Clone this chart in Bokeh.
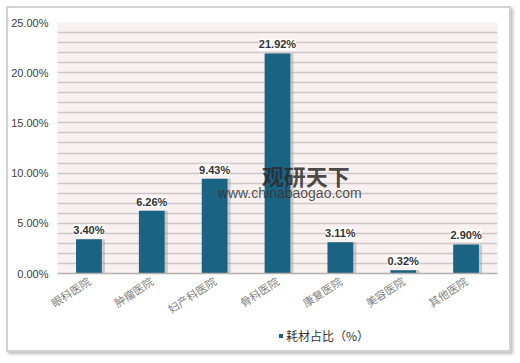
import math
from bokeh.plotting import figure
from bokeh.layouts import column
from bokeh.models import (ColumnDataSource, FactorRange, Range1d, FixedTicker,
                          PrintfTickFormatter, LabelSet, Legend, LegendItem, Label)
from bokeh.core.properties import value
from bokeh.transform import dodge
from bokeh.embed import file_html
from bokeh.resources import INLINE

categories = ["眼科医院", "肿瘤医院", "妇产科医院", "骨科医院", "康复医院", "美容医院", "其他医院"]
values = [3.40, 6.26, 9.43, 21.92, 3.11, 0.32, 2.90]
value_labels = ["3.40%", "6.26%", "9.43%", "21.92%", "3.11%", "0.32%", "2.90%"]
series_name = "耗材占比（%）"
y_ticks = [0, 5, 10, 15, 20, 25]
grid_ticks = list(range(0, 26))

BAR = "#1b6383"
source = ColumnDataSource(dict(cat=categories, val=values, lab=value_labels))

p = figure(width=501, height=318, x_range=FactorRange(*categories),
           y_range=Range1d(0, 25), output_backend="svg", toolbar_location=None,
           min_border_left=46, min_border_right=12, min_border_top=14,
           min_border_bottom=48)
p.background_fill_color = "#f9f0f0"
p.border_fill_color = "white"
p.outline_line_color = None

# shadow
p.vbar(x=dodge("cat", 0.05, range=p.x_range), top="val", width=0.41, source=source,
       fill_color="#9a9a9a", fill_alpha=0.45, line_color=None)
bars = p.vbar(x="cat", top="val", width=0.41, source=source,
              fill_color=BAR, line_color=None)

p.ygrid.ticker = FixedTicker(ticks=grid_ticks)
p.ygrid.grid_line_color = "#cdc7c7"
p.ygrid.grid_line_width = 1.5
p.xgrid.grid_line_color = None

p.yaxis.ticker = FixedTicker(ticks=y_ticks)
p.yaxis.formatter = PrintfTickFormatter(format="%.2f%%")
p.yaxis.axis_line_color = None
p.yaxis.major_tick_line_color = None
p.yaxis.minor_tick_line_color = None
p.yaxis.major_tick_out = 0
p.yaxis.major_label_standoff = 9
p.yaxis.major_label_text_font = "Liberation Sans"
p.yaxis.major_label_text_font_size = "11px"
p.yaxis.major_label_text_color = "#404040"

p.xaxis.axis_line_color = "#b5b0b0"
p.xaxis.axis_line_width = 1.5
p.xaxis.major_tick_line_color = None
p.xaxis.minor_tick_line_color = None
p.xaxis.major_tick_out = 0
p.xaxis.major_label_orientation = 0.58
p.xaxis.major_label_standoff = 6
p.xaxis.major_label_text_font = "Noto Sans CJK SC"
p.xaxis.major_label_text_font_size = "11px"
p.xaxis.major_label_text_color = "#7f7f7f"

labels = LabelSet(x="cat", y="val", text="lab", source=source, y_offset=3,
                  text_align="center", text_baseline="bottom",
                  text_font=value("Liberation Sans"), text_font_size="11px",
                  text_font_style="bold", text_color="#333333",
                  background_fill_color="white", background_fill_alpha=0.95)
p.add_layout(labels)

# watermark
p.add_layout(Label(x=3.25, y=8.2, text="观研天下", text_font="Noto Sans CJK SC",
                   text_font_size="22px", text_font_style="bold",
                   text_color="#2b2b2b", text_alpha=0.85))
p.add_layout(Label(x=2.55, y=7.25, text="www.chinabaogao.com", text_font="Liberation Sans",
                   text_font_size="14px", text_color="#333333", text_alpha=0.85))

# legend strip (zero-width bars of the same source only serve the legend swatch)
lf = figure(width=501, height=24, x_range=FactorRange(*categories), y_range=Range1d(-1000, -999),
            output_backend="svg", toolbar_location=None,
            x_axis_location=None, y_axis_location=None,
            min_border_left=0, min_border_right=0, min_border_top=0, min_border_bottom=0)
lf.grid.visible = False
lf.outline_line_color = None
lf.background_fill_color = "white"
lf.border_fill_color = "white"
sq = lf.vbar(x="cat", top="val", width=0, source=source, fill_color=BAR, line_color=None)
legend = Legend(items=[LegendItem(label=series_name, renderers=[sq])],
                location=(221, 6), orientation="horizontal",
                glyph_width=5, glyph_height=5, label_standoff=3, label_height=12,
                label_text_font="Noto Sans CJK SC", label_text_font_size="12px",
                label_text_color="#333333", background_fill_alpha=0,
                border_line_color=None, padding=0, margin=0)
lf.add_layout(legend)

layout = column(p, lf, spacing=0)
layout.margin = (6, 0, 0, 6)
layout.styles = {"border": "2px solid #d2d2d2", "box-shadow": "2px 2px 3px #bdbdbd",
                 "background-color": "white"}

open("out.html", "w").write(file_html(layout, INLINE))
